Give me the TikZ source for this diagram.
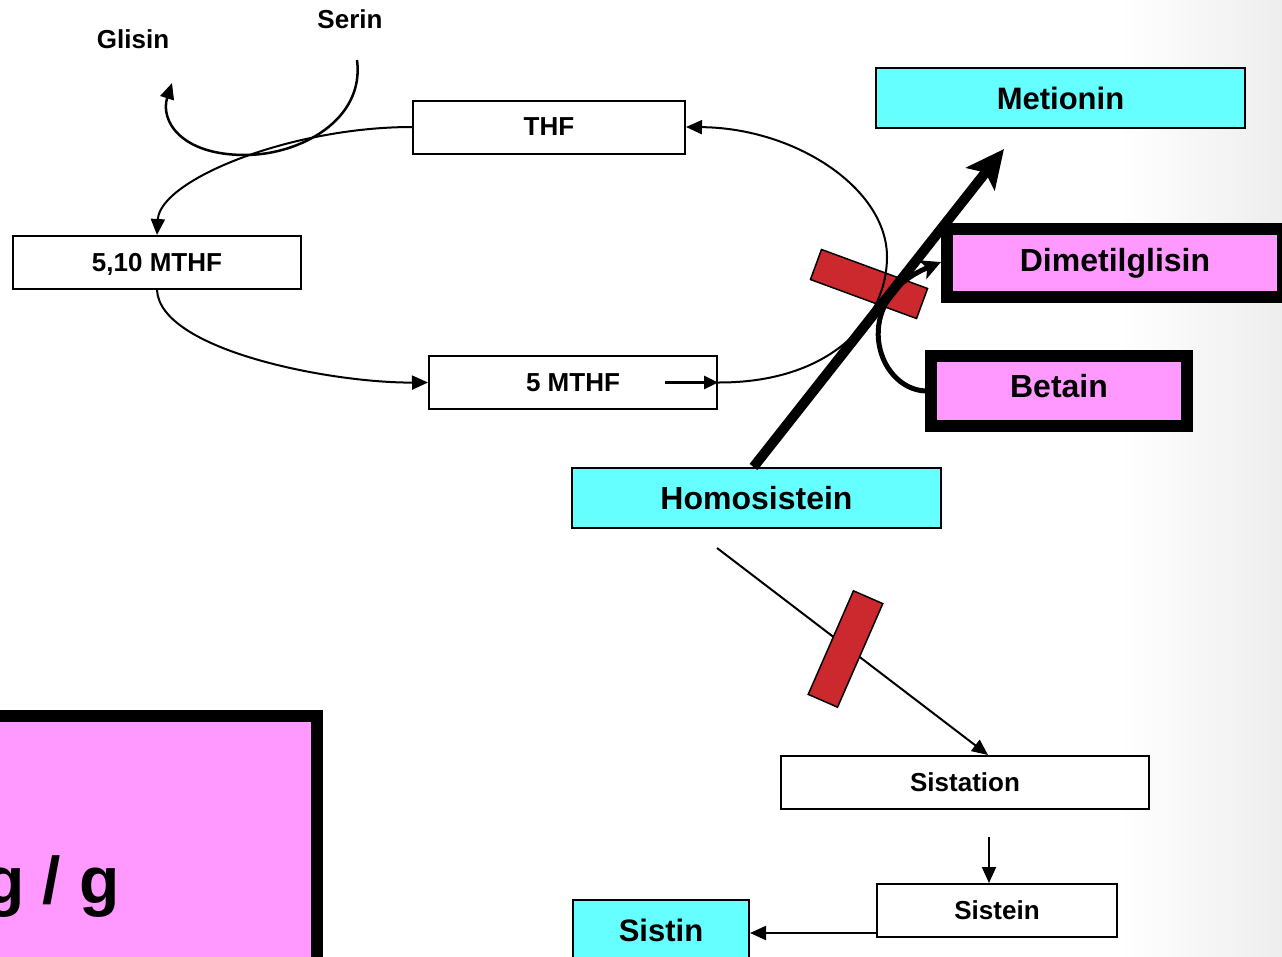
\documentclass[tikz,border=0pt]{standalone}
\usepackage{fontspec}
\setmainfont{Liberation Sans}
\usetikzlibrary{arrows.meta,calc}
\definecolor{cyanfill}{HTML}{66FFFF}
\definecolor{pinkfill}{HTML}{FF99FF}
\definecolor{barred}{RGB}{204,41,46}
\begin{document}
\begin{tikzpicture}[x=1pt,y=-1pt,
  fs/.style={font=\fontsize{#1}{#1}\selectfont\bfseries},
  wbox/.style={draw, line width=2pt, fill=white, inner sep=0pt, fs=26},
  cbox/.style={draw, line width=2pt, fill=cyanfill, inner sep=0pt, fs=32},
  pbox/.style={draw, line width=12pt, fill=pinkfill, inner sep=0pt, fs=32},
  conn/.style={line width=2pt, -{Triangle[length=16pt,width=14pt]}},
  redbar/.style={draw, line width=1.5pt, fill=barred, inner sep=0pt, minimum width=113pt, minimum height=32pt}]
\clip (0,0) rectangle (1282,956);
\useasboundingbox (0,0) rectangle (1282,956);
\shade[left color=white, right color=black!7] (1120,0) rectangle (1282,956);

% inhibition bar behind the remethylation arrows
\node[redbar, rotate=-20.2] (bar1) at (869,284) {};

% boxes
\node[wbox, minimum width=272pt, minimum height=53pt] (thf) at (549,127) {THF};
\node[wbox, minimum width=288pt, minimum height=53pt, text depth=0pt] (m510) at (157,262.5) {5,10 MTHF};
\node[wbox, minimum width=288pt, minimum height=53pt] (m5) at (573,382.5) {5 MTHF};
\node[cbox, minimum width=369pt, minimum height=60pt, fs=31] (met) at (1060.5,98) {Metionin};
\node[pbox, minimum width=336pt, minimum height=68pt] (dmg) at (1115,263) {Dimetilglisin};
\node[pbox, minimum width=256pt, minimum height=70pt, text depth=11pt] (bet) at (1059,391) {Betain};
\node[cbox, minimum width=369pt, minimum height=60pt] (hom) at (756.5,498) {Homosistein};
\node[wbox, minimum width=368pt, minimum height=53pt] (sist) at (965,782.5) {Sistation};
\node[wbox, minimum width=240pt, minimum height=53pt] (stein) at (997,910.5) {Sistein};
\node[cbox, minimum width=176pt, minimum height=60pt, fs=31] (stin) at (661,930) {Sistin};
\node[pbox, minimum width=347pt, minimum height=280pt] (big) at (143.5,856) {};
\node[fs=66, anchor=base east, inner sep=0pt] (gg) at (120,903) {g / g};

\node[fs=26] (gli) at (133,39) {Glisin};
\node[fs=26] (ser) at (350,19) {Serin};

% free ends
\coordinate (sstart) at (357,60);
\coordinate (gend) at (172,83);
\coordinate (m5in) at (665,382.5);
\coordinate (mettip) at (1004,149);
\coordinate (dmgtip) at (941,262);
\coordinate (hs) at (717,548);
\coordinate (sx) at (989,837);
\coordinate (stx) at ($(stein.south west)+(0,-5)$);

% folate cycle
\draw[conn, line width=2.5pt] (sstart) .. controls (365,120) and (300,155) .. (245,155)
      .. controls (180,155) and (160,120) .. (gend);
\draw[conn] (thf.west) .. controls (290,127) and (160,180) .. (m510.north);
\draw[conn] (m510.south) .. controls (160,350) and (330,383) .. (m5.west);
\draw[line width=3pt, -{Triangle[length=14pt,width=13pt]}] (m5in) -- (m5.east);
\draw[conn] (m5.east) .. controls (830,383) and (887,320) .. (887,257)
      .. controls (887,188) and (795,128) .. (thf.east);

% remethylation
\draw[line width=10pt, -{Stealth[length=38pt,width=36pt,inset=8pt]}] ([xshift=-3pt]hom.north) -- (mettip);
\draw[line width=5pt, -{Stealth[length=20pt,width=20pt,inset=5pt]}] (bet.west) .. controls (875,388) and (850,300) .. (dmgtip);

% transsulfuration
\draw[conn] (hs) -- ([xshift=23pt]sist.north);
\node[redbar, rotate=66.4] (bar2) at (845.5,649) {};
\draw[conn] (sx) -- ([xshift=-8pt]stein.north);
\draw[conn] (stx) -- (stx -| stin.east);
\end{tikzpicture}
\end{document}
